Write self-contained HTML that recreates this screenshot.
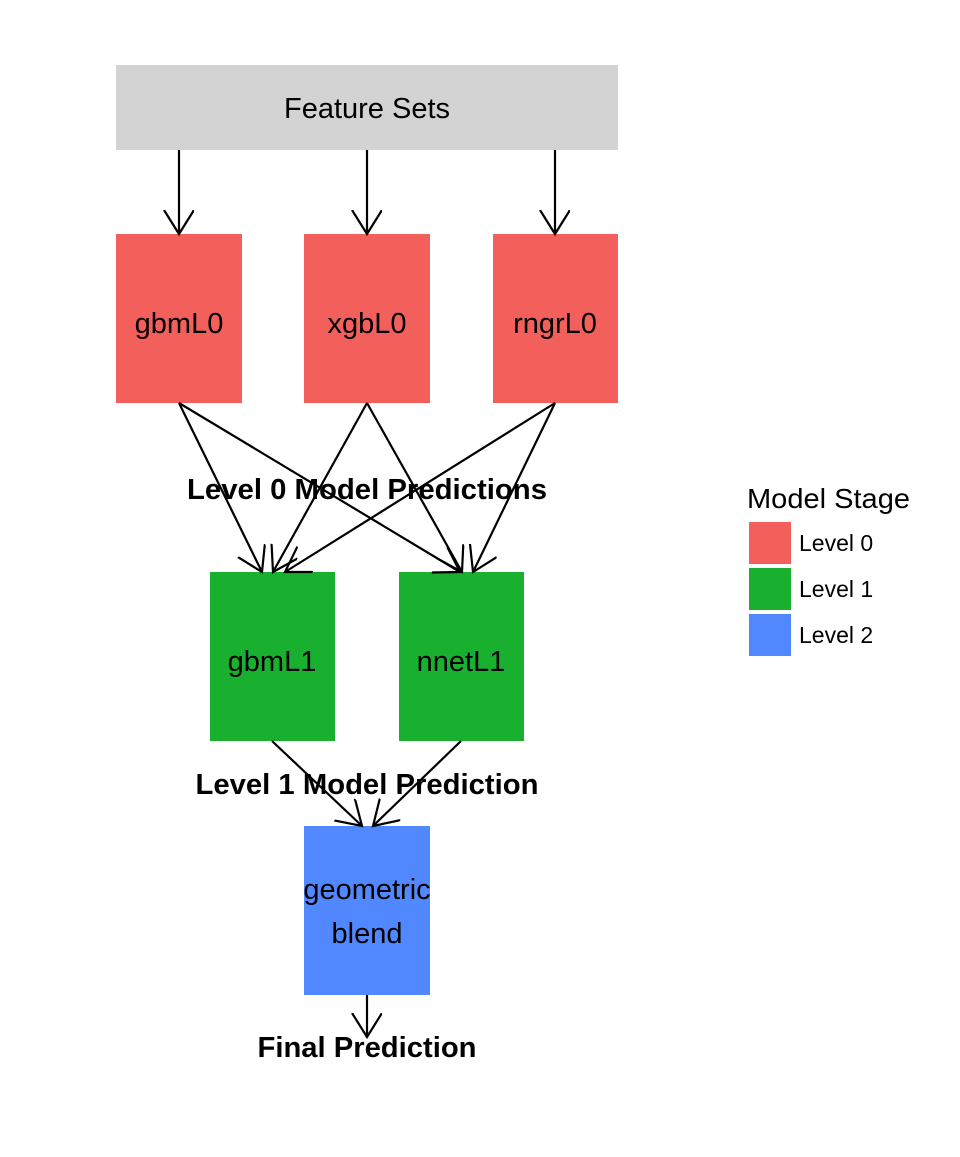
<!DOCTYPE html>
<html><head><meta charset="utf-8"><style>
html,body{margin:0;padding:0;background:#fff;}
</style></head><body>
<svg width="960" height="1152" viewBox="0 0 960 1152" xmlns="http://www.w3.org/2000/svg" font-family="Liberation Sans, Arial, sans-serif">
<defs>
<marker id="a" markerUnits="userSpaceOnUse" markerWidth="40" markerHeight="40" refX="24" refY="15" orient="auto" viewBox="0 0 40 40">
<path d="M0,0 L24,15 L0,30" fill="none" stroke="#000" stroke-width="2.2"/>
</marker>
</defs>
<rect x="116" y="65" width="502" height="85" fill="#d3d3d3"/>
<text x="367" y="118" font-size="29" text-anchor="middle" textLength="166" lengthAdjust="spacingAndGlyphs">Feature Sets</text>
<g fill="#F3605C">
<rect x="116" y="234" width="126" height="169"/>
<rect x="304" y="234" width="126" height="169"/>
<rect x="493" y="234" width="125" height="169"/>
</g>
<g fill="#1AB02F">
<rect x="210" y="572" width="125" height="169"/>
<rect x="399" y="572" width="125" height="169"/>
</g>
<rect x="304" y="826" width="126" height="169" fill="#5288FF"/>
<g font-size="29" text-anchor="middle">
<text x="179" y="333">gbmL0</text>
<text x="367" y="333">xgbL0</text>
<text x="555" y="333">rngrL0</text>
<text x="272" y="671">gbmL1</text>
<text x="461" y="671">nnetL1</text>
<text x="367" y="899">geometric</text>
<text x="367" y="943">blend</text>
</g>
<g font-size="29" font-weight="bold" text-anchor="middle">
<text x="367" y="499" textLength="360" lengthAdjust="spacingAndGlyphs">Level 0 Model Predictions</text>
<text x="367" y="794" textLength="343" lengthAdjust="spacingAndGlyphs">Level 1 Model Prediction</text>
<text x="367" y="1057" textLength="219" lengthAdjust="spacingAndGlyphs">Final Prediction</text>
</g>
<g stroke="#000" stroke-width="2.2" fill="none" marker-end="url(#a)">
<line x1="179" y1="150" x2="179" y2="234"/>
<line x1="367" y1="150" x2="367" y2="234"/>
<line x1="555" y1="150" x2="555" y2="234"/>
<line x1="179" y1="403" x2="262" y2="572"/>
<line x1="179" y1="403" x2="460" y2="572"/>
<line x1="367" y1="403" x2="273" y2="572"/>
<line x1="367" y1="403" x2="462" y2="572"/>
<line x1="555" y1="403" x2="285" y2="572"/>
<line x1="555" y1="403" x2="473" y2="572"/>
<line x1="272" y1="741" x2="362" y2="826"/>
<line x1="461" y1="741" x2="373" y2="826"/>
<line x1="367" y1="995" x2="367" y2="1037"/>
</g>
<text x="747" y="508" font-size="28" textLength="163" lengthAdjust="spacingAndGlyphs">Model Stage</text>
<rect x="749" y="522" width="42" height="42" fill="#F3605C"/>
<rect x="749" y="568" width="42" height="42" fill="#1AB02F"/>
<rect x="749" y="614" width="42" height="42" fill="#5288FF"/>
<g font-size="23">
<text x="799" y="551">Level 0</text>
<text x="799" y="597">Level 1</text>
<text x="799" y="643">Level 2</text>
</g>
</svg>
</body></html>
